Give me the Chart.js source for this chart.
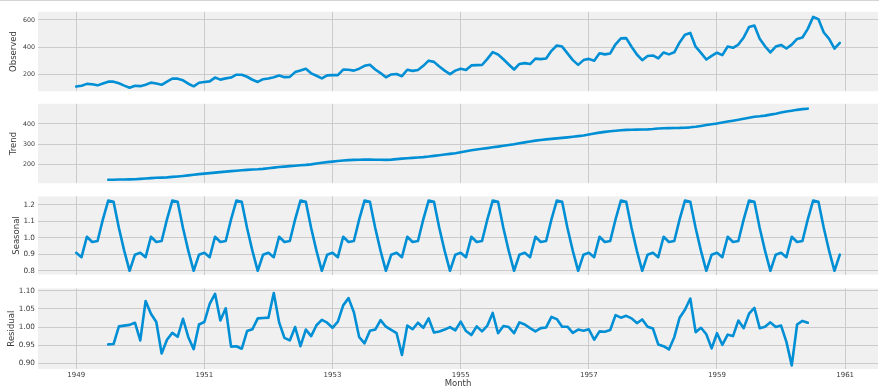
<!DOCTYPE html>
<html><head><meta charset="utf-8">
<script src="https://cdn.jsdelivr.net/npm/chart.js@4"></script>
<style>
html,body{margin:0;padding:0;background:#fff;width:879px;height:388px;overflow:hidden;}
.topline{position:absolute;left:0;top:0;width:879px;height:1px;background:#d4d4d4;}
canvas{position:absolute;left:0;}
</style></head><body>
<div class="topline"></div>
<canvas id="c1" width="879" height="93" style="top:5px"></canvas>
<canvas id="c2" width="879" height="93" style="top:97px"></canvas>
<canvas id="c3" width="879" height="93" style="top:189px"></canvas>
<canvas id="c4" width="879" height="107" style="top:281px"></canvas>
<script>
const startYear = 1949;
const observed = [
112,118,132,129,121,135,148,148,136,119,104,118,
115,126,141,135,125,149,170,170,158,133,114,140,
145,150,178,163,172,178,199,199,184,162,146,166,
171,180,193,181,183,218,230,242,209,191,172,194,
196,196,236,235,229,243,264,272,237,211,180,201,
204,188,235,227,234,264,302,293,259,229,203,229,
242,233,267,269,270,315,364,347,312,274,237,278,
284,277,317,313,318,374,413,405,355,306,271,306,
315,301,356,348,355,422,465,467,404,347,305,336,
340,318,362,348,363,435,491,505,404,359,310,337,
360,342,406,396,420,472,548,559,463,407,362,405,
417,391,419,461,472,535,622,606,508,461,390,432];
const trend = [
null,null,null,null,null,null,126.79,127.25,127.96,128.58,129.00,129.75,
131.25,133.08,134.92,136.42,137.42,138.75,140.92,143.17,145.71,148.42,151.54,154.71,
157.13,159.54,161.83,164.13,166.67,169.08,171.25,173.58,175.46,176.83,178.04,180.17,
183.13,186.21,189.04,191.29,193.58,195.83,198.04,199.75,202.21,206.25,210.42,213.38,
215.83,218.50,220.92,222.92,224.08,224.71,225.33,225.33,224.96,224.58,224.46,225.54,
228.00,230.46,232.25,233.92,235.63,237.75,240.50,243.96,247.17,250.25,253.50,257.13,
261.83,266.67,271.13,275.21,278.50,281.96,285.75,289.33,293.25,297.17,301.00,305.46,
309.96,314.42,318.63,321.75,324.50,327.08,329.54,331.83,334.46,337.54,340.54,344.08,
348.25,353.00,357.63,361.38,364.50,367.17,369.46,371.21,372.17,372.42,372.75,373.63,
375.25,377.92,379.50,380.00,380.71,380.96,381.83,383.67,386.50,390.33,394.71,398.63,
402.54,407.17,411.88,416.33,420.50,425.50,430.71,435.13,437.71,440.96,445.83,450.63,
456.33,461.38,465.21,469.33,472.75,475.04,null,null,null,null,null,null];
const seasonal = [
0.9102,0.8836,1.0074,0.9759,0.9814,1.1128,1.2266,1.2199,1.0605,0.9218,0.8012,0.8988,
0.9102,0.8836,1.0074,0.9759,0.9814,1.1128,1.2266,1.2199,1.0605,0.9218,0.8012,0.8988,
0.9102,0.8836,1.0074,0.9759,0.9814,1.1128,1.2266,1.2199,1.0605,0.9218,0.8012,0.8988,
0.9102,0.8836,1.0074,0.9759,0.9814,1.1128,1.2266,1.2199,1.0605,0.9218,0.8012,0.8988,
0.9102,0.8836,1.0074,0.9759,0.9814,1.1128,1.2266,1.2199,1.0605,0.9218,0.8012,0.8988,
0.9102,0.8836,1.0074,0.9759,0.9814,1.1128,1.2266,1.2199,1.0605,0.9218,0.8012,0.8988,
0.9102,0.8836,1.0074,0.9759,0.9814,1.1128,1.2266,1.2199,1.0605,0.9218,0.8012,0.8988,
0.9102,0.8836,1.0074,0.9759,0.9814,1.1128,1.2266,1.2199,1.0605,0.9218,0.8012,0.8988,
0.9102,0.8836,1.0074,0.9759,0.9814,1.1128,1.2266,1.2199,1.0605,0.9218,0.8012,0.8988,
0.9102,0.8836,1.0074,0.9759,0.9814,1.1128,1.2266,1.2199,1.0605,0.9218,0.8012,0.8988,
0.9102,0.8836,1.0074,0.9759,0.9814,1.1128,1.2266,1.2199,1.0605,0.9218,0.8012,0.8988,
0.9102,0.8836,1.0074,0.9759,0.9814,1.1128,1.2266,1.2199,1.0605,0.9218,0.8012,0.8988];
const residual = [
null,null,null,null,null,null,0.952,0.953,1.002,1.004,1.006,1.012,
0.963,1.072,1.037,1.014,0.927,0.965,0.984,0.973,1.023,0.972,0.939,1.007,
1.014,1.064,1.092,1.018,1.052,0.946,0.947,0.940,0.989,0.994,1.024,1.025,
1.026,1.094,1.013,0.970,0.963,1.000,0.947,0.993,0.975,1.005,1.020,1.012,
0.998,1.015,1.060,1.080,1.041,0.972,0.955,0.990,0.993,1.019,1.001,0.992,
0.983,0.923,1.004,0.994,1.012,0.998,1.024,0.985,0.988,0.993,1.000,0.991,
1.015,0.989,0.978,1.002,0.988,1.004,1.039,0.983,1.003,1.000,0.983,1.013,
1.007,0.997,0.988,0.997,0.999,1.028,1.022,1.001,1.001,0.984,0.993,0.990,
0.994,0.965,0.988,0.987,0.992,1.033,1.026,1.031,1.024,1.011,1.021,1.001,
0.996,0.952,0.947,0.938,0.972,1.026,1.048,1.079,0.986,0.998,0.980,0.941,
0.983,0.951,0.979,0.975,1.018,0.997,1.037,1.053,0.997,1.001,1.013,1.000,
1.004,0.959,0.894,1.007,1.017,1.012,null,null,null,null,null,null];
const xTicks = [1949,1951,1953,1955,1957,1959,1961];
const obsTicks = [200,400,600];
const trendTicks = [200,300,400];
const seasTicks = [0.8,0.9,1.0,1.1,1.2];
const resTicks = [0.90,0.95,1.00,1.05,1.10];

const monthPos = observed.map((_, i) => startYear + i / 12);
const toPts = arr => arr.map((v, i) => ({x: monthPos[i], y: v}));

const GRID = '#cbcbcb', BG = '#f0f0f0', LINE = '#008fd5', TXT = '#3a3a3a';
const FONT = '"DejaVu Sans", sans-serif';

const bgPlugin = {
  id: 'bg',
  beforeDraw(chart) {
    const a = chart.chartArea, c = chart.ctx;
    c.save(); c.fillStyle = BG; c.fillRect(a.left, a.top, a.right - a.left, a.bottom - a.top); c.restore();
  },
  afterDraw(chart) {
    const o = chart.options.plugins.bg, c = chart.ctx, a = chart.chartArea;
    c.save();
    c.fillStyle = TXT; c.font = '8.5px ' + FONT; c.textAlign = 'center'; c.textBaseline = 'middle';
    c.translate(o.labelX, (a.top + a.bottom) / 2); c.rotate(-Math.PI / 2);
    c.fillText(o.label, 0, 0);
    c.restore();
    if (o.xtitle) {
      c.save(); c.fillStyle = TXT; c.font = '8.5px ' + FONT; c.textAlign = 'center'; c.textBaseline = 'middle';
      c.fillText(o.xtitle, (a.left + a.right) / 2, o.xtitleY); c.restore();
    }
  }
};

function makePanel(id, data, yMin, yMax, yTicks, fmt, label, labelX, tickSize, last) {
  new Chart(document.getElementById(id), {
    type: 'line',
    data: { datasets: [{ data: toPts(data), borderColor: LINE, borderWidth: 2.6, pointRadius: 0,
      tension: 0, fill: false, spanGaps: false, borderJoinStyle: 'round', borderCapStyle: 'round' }] },
    options: {
      responsive: false, animation: false, events: [],
      layout: { padding: { top: 5, bottom: last ? 0 : 5, left: 0, right: 1 } },
      plugins: { legend: { display: false }, tooltip: { enabled: false },
        bg: { label, labelX, xtitle: last ? 'Month' : null, xtitleY: 102.5 } },
      scales: {
        x: { type: 'linear', min: 1948.404, max: 1961.5125,
          afterBuildTicks: s => { s.ticks = xTicks.map(v => ({ value: v })); },
          afterFit: s => { s.height = last ? 19 : 0; },
          grid: { color: GRID, lineWidth: 1, drawTicks: false },
          border: { display: false },
          ticks: { display: last, autoSkip: false, maxRotation: 0, padding: 2, color: TXT,
            font: { family: FONT, size: 7 }, callback: v => String(v) } },
        y: { min: yMin, max: yMax,
          afterBuildTicks: s => { s.ticks = yTicks.map(v => ({ value: v })); },
          afterFit: s => { s.width = 38; },
          grid: { color: GRID, lineWidth: 1, drawTicks: false },
          border: { display: false },
          ticks: { autoSkip: false, padding: 3, color: TXT, font: { family: FONT, size: tickSize },
            callback: v => fmt(v) } }
      }
    },
    plugins: [bgPlugin]
  });
}

makePanel('c1', observed, 78, 660, obsTicks, v => String(v), 'Observed', 14, 6.3, false);
makePanel('c2', trend, 110, 499, trendTicks, v => String(v), 'Trend', 14, 6.3, false);
makePanel('c3', seasonal, 0.778, 1.252, seasTicks, v => v.toFixed(1), 'Seasonal', 17, 7.3, false);
makePanel('c4', residual, 0.884, 1.107, resTicks, v => v.toFixed(2), 'Residual', 12, 7.3, true);
</script>
</body></html>
